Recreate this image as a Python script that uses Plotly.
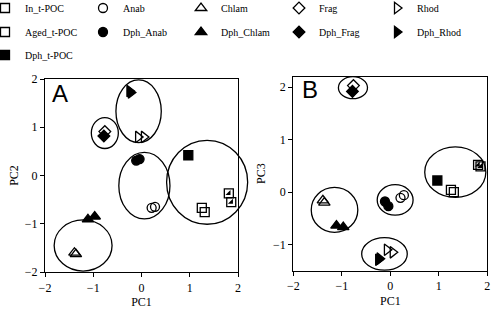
import plotly.graph_objects as go

# ---------------- data ----------------
in_tpoc_pc1 = [1.25, 1.31]
in_tpoc_pc2 = [-0.67, -0.76]
in_tpoc_pc3 = [0.04, 0.00]

aged_tpoc_pc1 = [1.81, 1.86]
aged_tpoc_pc2 = [-0.37, -0.55]
aged_tpoc_pc3 = [0.52, 0.49]

dph_tpoc_pc1 = [0.97]
dph_tpoc_pc2 = [0.42]
dph_tpoc_pc3 = [0.22]

anab_pc1 = [0.21, 0.28]
anab_pc2 = [-0.67, -0.65]
anab_pc3 = [-0.11, -0.06]

dph_anab_pc1 = [-0.11, -0.04]
dph_anab_pc2 = [0.31, 0.34]
dph_anab_pc3 = [-0.18, -0.27]

chlam_pc1 = [-1.39, -1.36]
chlam_pc2 = [-1.60, -1.63]
chlam_pc3 = [-0.16, -0.20]

dph_chlam_pc1 = [-1.11, -0.97]
dph_chlam_pc2 = [-0.91, -0.85]
dph_chlam_pc3 = [-0.64, -0.67]

frag_pc1 = [-0.76]
frag_pc2 = [0.91]
frag_pc3 = [2.03]

dph_frag_pc1 = [-0.78]
dph_frag_pc2 = [0.82]
dph_frag_pc3 = [1.92]

rhod_pc1 = [-0.07, 0.05]
rhod_pc2 = [0.80, 0.80]
rhod_pc3 = [-1.10, -1.15]

dph_rhod_pc1 = [-0.25, -0.22]
dph_rhod_pc2 = [1.75, 1.72]
dph_rhod_pc3 = [-1.29, -1.27]

# cluster ellipses (centre / radii, data units)
ell_a_cx = [-0.06, -0.76, 0.06, 1.36, -1.21]
ell_a_cy = [1.33, 0.88, -0.21, -0.14, -1.45]
ell_a_rx = [0.47, 0.28, 0.53, 0.84, 0.60]
ell_a_ry = [0.65, 0.32, 0.69, 0.87, 0.53]

ell_b_cx = [-0.77, 1.34, -1.15, 0.10, -0.12]
ell_b_cy = [1.99, 0.38, -0.34, -0.15, -1.18]
ell_b_rx = [0.30, 0.63, 0.48, 0.37, 0.47]
ell_b_ry = [0.21, 0.48, 0.43, 0.29, 0.31]

tick_vals_pc1 = [-2, -1, 0, 1, 2]
tick_vals_pc2 = [-2, -1, 0, 1, 2]
tick_vals_pc3 = [-1, 0, 1, 2]

# ---------------- styling ----------------
W, H = 492, 316
TOP = 66  # plot-area top (legends sit above it)
SERIF = "Liberation Serif, Times New Roman, serif"
SANS = "Liberation Sans, Arial, sans-serif"
MS = 9
LW = 1.3

series = [
    # name, pc1, pc2, pc3, symbol, legend
    ("In_t-POC", in_tpoc_pc1, in_tpoc_pc2, in_tpoc_pc3, "square-open", "legend"),
    ("Anab", anab_pc1, anab_pc2, anab_pc3, "circle-open", "legend"),
    ("Chlam", chlam_pc1, chlam_pc2, chlam_pc3, "triangle-up-open", "legend"),
    ("Frag", frag_pc1, frag_pc2, frag_pc3, "diamond-open", "legend"),
    ("Rhod", rhod_pc1, rhod_pc2, rhod_pc3, "triangle-right-open", "legend"),
    ("Aged_t-POC", aged_tpoc_pc1, aged_tpoc_pc2, aged_tpoc_pc3, "square-open", "legend2"),
    ("Dph_Anab", dph_anab_pc1, dph_anab_pc2, dph_anab_pc3, "circle", "legend2"),
    ("Dph_Chlam", dph_chlam_pc1, dph_chlam_pc2, dph_chlam_pc3, "triangle-up", "legend2"),
    ("Dph_Frag", dph_frag_pc1, dph_frag_pc2, dph_frag_pc3, "diamond", "legend2"),
    ("Dph_Rhod", dph_rhod_pc1, dph_rhod_pc2, dph_rhod_pc3, "triangle-right", "legend2"),
    ("Dph_t-POC", dph_tpoc_pc1, dph_tpoc_pc2, dph_tpoc_pc3, "square", "legend3"),
]

fig = go.Figure()
for name, p1, p2, p3, sym, lg in series:
    size = MS + 1 if sym.startswith("triangle") else MS
    mk = dict(symbol=sym, size=size, color="black",
              line=dict(color="black", width=LW))
    fig.add_trace(go.Scatter(x=p1, y=p2, mode="markers", name=name, marker=mk,
                             legend=lg, showlegend=True,
                             xaxis="x", yaxis="y", cliponaxis=False))
    fig.add_trace(go.Scatter(x=p1, y=p3, mode="markers", name=name, marker=mk,
                             legend=lg, showlegend=False,
                             xaxis="x2", yaxis="y2", cliponaxis=False))
    if name == "Aged_t-POC":
        hm = dict(symbol="triangle-se", size=MS * 0.62, color="black", line=dict(width=0))
        fig.add_trace(go.Scatter(x=p1, y=p2, mode="markers", marker=hm,
                                 showlegend=False, xaxis="x", yaxis="y", cliponaxis=False))
        fig.add_trace(go.Scatter(x=p1, y=p3, mode="markers", marker=hm,
                                 showlegend=False, xaxis="x2", yaxis="y2", cliponaxis=False))


def fx(px):
    return px / W


def fy(py):
    return (H - py) / (H - TOP)


def dom_x(p0, p1):
    return [fx(p0), fx(p1)]


def dom_y(top, bot):
    return [fy(bot), fy(top)]


def extend(dom, rng, pad):
    per = (dom[1] - dom[0]) / (rng[1] - rng[0])
    return [dom[0] - pad * per, dom[1] + pad * per], [rng[0] - pad, rng[1] + pad]


xa_dom, ya_dom = dom_x(45, 238), dom_y(79, 272)
xb_dom, yb_dom = dom_x(293.3, 487.3), dom_y(76.7, 270.7)
xa_rng, ya_rng = [-2, 2], [-2, 2]
xb_rng, yb_rng = [-2, 2], [-1.5, 2.2]

axis_common = dict(showline=True, linecolor="black", linewidth=LW, mirror=True,
                   ticks="outside", ticklen=4, tickwidth=1, tickcolor="black",
                   showgrid=False, zeroline=False, automargin=False,
                   tickfont=dict(family=SERIF, size=12, color="black"))

x3d, x3r = extend(xa_dom, xa_rng, 0.3)
y3d, y3r = extend(ya_dom, ya_rng, 0.2)
x4d, x4r = extend(xb_dom, xb_rng, 0.05)
y4d, y4r = extend(yb_dom, yb_rng, 0.1)

fig.update_layout(
    width=W, height=H, margin=dict(l=0, r=0, t=TOP, b=0, autoexpand=False),
    paper_bgcolor="white", plot_bgcolor="rgba(0,0,0,0)",
    font=dict(family=SERIF, color="black"),
    xaxis=dict(domain=xa_dom, range=xa_rng, anchor="y", tickvals=tick_vals_pc1,
               title=dict(text="PC1", font=dict(family=SERIF, size=12), standoff=4), **axis_common),
    yaxis=dict(domain=ya_dom, range=ya_rng, anchor="x", tickvals=tick_vals_pc2,
               title=dict(text="PC2", font=dict(family=SERIF, size=12), standoff=3), **axis_common),
    xaxis2=dict(domain=xb_dom, range=xb_rng, anchor="y2", tickvals=tick_vals_pc1,
                title=dict(text="PC1", font=dict(family=SERIF, size=12), standoff=4), **axis_common),
    yaxis2=dict(domain=yb_dom, range=yb_rng, anchor="x2", tickvals=tick_vals_pc3,
                title=dict(text="PC3", font=dict(family=SERIF, size=12), standoff=4), **axis_common),
    xaxis3=dict(domain=x3d, range=x3r, anchor="y3", visible=False),
    yaxis3=dict(domain=y3d, range=y3r, anchor="x3", visible=False),
    xaxis4=dict(domain=x4d, range=x4r, anchor="y4", visible=False),
    yaxis4=dict(domain=y4d, range=y4r, anchor="x4", visible=False),
)

legend_common = dict(orientation="h", x=fx(-15), xanchor="left", yanchor="middle",
                     entrywidth=53, entrywidthmode="pixels", bgcolor="rgba(0,0,0,0)",
                     font=dict(family=SERIF, size=10, color="black"))
fig.update_layout(
    legend=dict(y=fy(8), **legend_common),
    legend2=dict(y=fy(32), **legend_common),
    legend3=dict(y=fy(55), **legend_common),
)

for cx, cy, rx, ry in zip(ell_a_cx, ell_a_cy, ell_a_rx, ell_a_ry):
    fig.add_shape(type="circle", xref="x3", yref="y3", x0=cx - rx, x1=cx + rx,
                  y0=cy - ry, y1=cy + ry, line=dict(color="black", width=LW))
for cx, cy, rx, ry in zip(ell_b_cx, ell_b_cy, ell_b_rx, ell_b_ry):
    fig.add_shape(type="circle", xref="x4", yref="y4", x0=cx - rx, x1=cx + rx,
                  y0=cy - ry, y1=cy + ry, line=dict(color="black", width=LW))

fig.add_annotation(text="A", xref="paper", yref="paper", x=fx(50), y=fy(93),
                   xanchor="left", yanchor="middle", showarrow=False,
                   font=dict(family=SANS, size=24, color="black"))
fig.add_annotation(text="B", xref="paper", yref="paper", x=fx(300), y=fy(89),
                   xanchor="left", yanchor="middle", showarrow=False,
                   font=dict(family=SANS, size=24, color="black"))

fig.write_html("out.html", config={"displayModeBar": False},
               post_script="document.body.style.margin='0px';")
